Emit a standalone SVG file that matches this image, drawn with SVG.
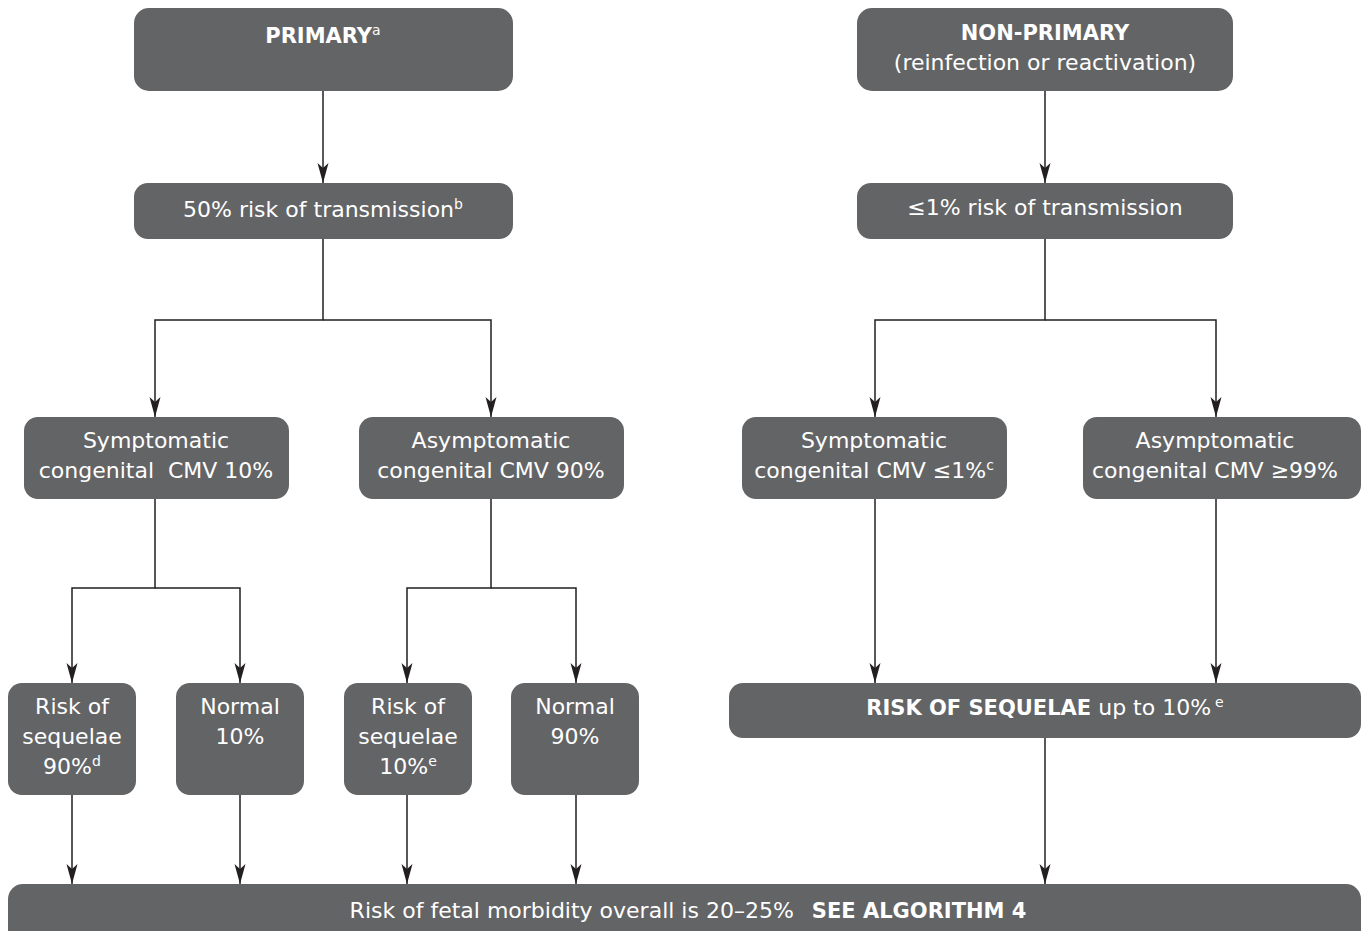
<svg xmlns="http://www.w3.org/2000/svg" width="1363" height="931" viewBox="0 0 1363 931">
  <style>
    .box { fill: #636466; }
    .t { font-family: "DejaVu Sans", "Liberation Sans", sans-serif; font-size: 22px; fill: #ffffff; text-anchor: middle; }
    .b { font-weight: bold; font-size: 21px; }
    .sup { font-size: 14px; font-weight: normal; }
    .edge { fill: none; stroke: #231f20; stroke-width: 1.5; }
  </style>
  <defs>
    <marker id="arrow" viewBox="-21 -6 22 12" refX="0" refY="0" markerWidth="22" markerHeight="12" markerUnits="userSpaceOnUse" orient="auto">
      <path d="M-20,-5.5 L0,0 L-20,5.5 L-15,0 Z" fill="#231f20"/>
    </marker>
  </defs>
  <rect width="1363" height="931" fill="#ffffff"/>

  <!-- connectors -->
  <g id="connectors">
    <path class="edge" d="M323,91 V183" marker-end="url(#arrow)"/>
    <path class="edge" d="M1045,91 V183" marker-end="url(#arrow)"/>
    <!-- primary branch split -->
    <path class="edge" d="M323,239 V320 H155 V417" marker-end="url(#arrow)"/>
    <path class="edge" d="M323,320 H491 V417" marker-end="url(#arrow)"/>
    <!-- non-primary branch split -->
    <path class="edge" d="M1045,239 V320 H875 V417" marker-end="url(#arrow)"/>
    <path class="edge" d="M1045,320 H1216 V417" marker-end="url(#arrow)"/>
    <!-- symptomatic / asymptomatic outcomes -->
    <path class="edge" d="M155,499 V588 H72 V683" marker-end="url(#arrow)"/>
    <path class="edge" d="M155,588 H240 V683" marker-end="url(#arrow)"/>
    <path class="edge" d="M491,499 V588 H407 V683" marker-end="url(#arrow)"/>
    <path class="edge" d="M491,588 H576 V683" marker-end="url(#arrow)"/>
    <path class="edge" d="M875,499 V683" marker-end="url(#arrow)"/>
    <path class="edge" d="M1216,499 V683" marker-end="url(#arrow)"/>
    <!-- into overall morbidity bar -->
    <path class="edge" d="M72,795 V884" marker-end="url(#arrow)"/>
    <path class="edge" d="M240,795 V884" marker-end="url(#arrow)"/>
    <path class="edge" d="M407,795 V884" marker-end="url(#arrow)"/>
    <path class="edge" d="M576,795 V884" marker-end="url(#arrow)"/>
    <path class="edge" d="M1045,738 V884" marker-end="url(#arrow)"/>
  </g>

  <g id="primary">
    <rect class="box" x="134" y="8" width="379" height="83" rx="15"/>
    <text class="t b" x="323" y="43">PRIMARY<tspan class="sup" dy="-8">a</tspan></text>
  </g>

  <g id="non-primary">
    <rect class="box" x="857" y="8" width="376" height="83" rx="15"/>
    <text class="t b" x="1045" y="40">NON-PRIMARY</text>
    <text class="t" x="1045" y="70">(reinfection or reactivation)</text>
  </g>

  <g id="primary-transmission">
    <rect class="box" x="134" y="183" width="379" height="56" rx="14"/>
    <text class="t" x="323" y="217">50% risk of transmission<tspan class="sup" dy="-8">b</tspan></text>
  </g>

  <g id="nonprimary-transmission">
    <rect class="box" x="857" y="183" width="376" height="56" rx="14"/>
    <text class="t" x="1045" y="215">≤1% risk of transmission</text>
  </g>

  <g id="primary-symptomatic">
    <rect class="box" x="24" y="417" width="265" height="82" rx="14"/>
    <text class="t" x="156" y="448">Symptomatic</text>
    <text class="t" x="156" y="478" xml:space="preserve">congenital  CMV 10%</text>
  </g>

  <g id="primary-asymptomatic">
    <rect class="box" x="359" y="417" width="265" height="82" rx="14"/>
    <text class="t" x="491" y="448">Asymptomatic</text>
    <text class="t" x="491" y="478">congenital CMV 90%</text>
  </g>

  <g id="nonprimary-symptomatic">
    <rect class="box" x="742" y="417" width="265" height="82" rx="14"/>
    <text class="t" x="874" y="448">Symptomatic</text>
    <text class="t" x="874" y="478">congenital CMV ≤1%<tspan class="sup" dy="-8">c</tspan></text>
  </g>

  <g id="nonprimary-asymptomatic">
    <rect class="box" x="1083" y="417" width="278" height="82" rx="14"/>
    <text class="t" x="1215" y="448">Asymptomatic</text>
    <text class="t" x="1215" y="478">congenital CMV ≥99%</text>
  </g>

  <g id="symptomatic-sequelae">
    <rect class="box" x="8" y="683" width="128" height="112" rx="14"/>
    <text class="t" x="72" y="714">Risk of</text>
    <text class="t" x="72" y="744">sequelae</text>
    <text class="t" x="72" y="774">90%<tspan class="sup" dy="-8">d</tspan></text>
  </g>

  <g id="symptomatic-normal">
    <rect class="box" x="176" y="683" width="128" height="112" rx="14"/>
    <text class="t" x="240" y="714">Normal</text>
    <text class="t" x="240" y="744">10%</text>
  </g>

  <g id="asymptomatic-sequelae">
    <rect class="box" x="344" y="683" width="128" height="112" rx="14"/>
    <text class="t" x="408" y="714">Risk of</text>
    <text class="t" x="408" y="744">sequelae</text>
    <text class="t" x="408" y="774">10%<tspan class="sup" dy="-8">e</tspan></text>
  </g>

  <g id="asymptomatic-normal">
    <rect class="box" x="511" y="683" width="128" height="112" rx="14"/>
    <text class="t" x="575" y="714">Normal</text>
    <text class="t" x="575" y="744">90%</text>
  </g>

  <g id="nonprimary-sequelae">
    <rect class="box" x="729" y="683" width="632" height="55" rx="14"/>
    <text class="t" x="1045" y="715"><tspan class="b">RISK OF SEQUELAE</tspan> up to 10%<tspan class="sup" dx="4" dy="-8">e</tspan></text>
  </g>

  <g id="overall-morbidity">
    <rect class="box" x="8" y="884" width="1353" height="62" rx="15"/>
    <text class="t" x="688" y="918">Risk of fetal morbidity overall is 20–25%<tspan class="b" dx="18">SEE ALGORITHM 4</tspan></text>
  </g>
</svg>
